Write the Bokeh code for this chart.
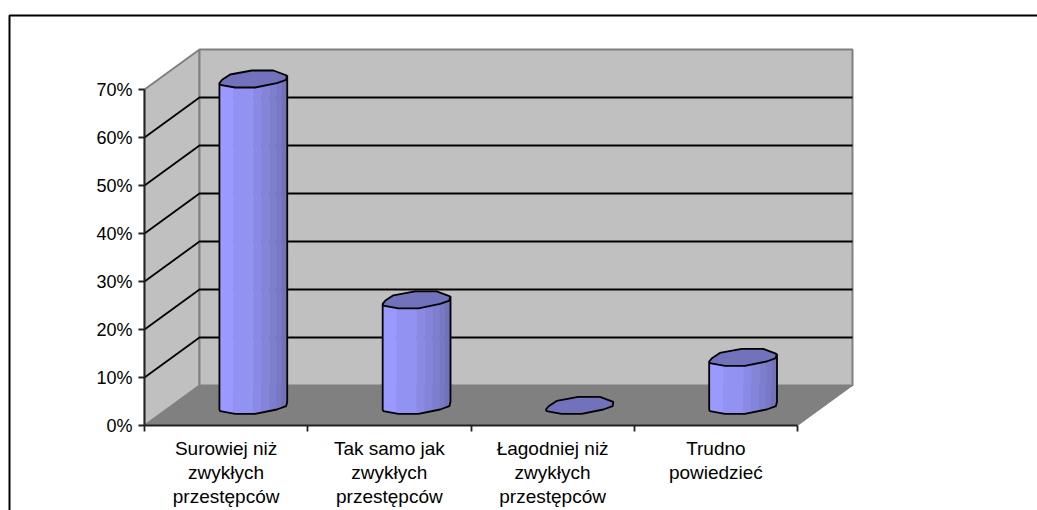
import numpy as np
from bokeh.embed import file_html
from bokeh.resources import INLINE
from bokeh.core.properties import value
from bokeh.models import Range1d, LinearAxis, FixedTicker
from bokeh.plotting import figure

categories = ["Surowiej niż\nzwykłych\nprzestępców", "Tak samo jak\nzwykłych\nprzestępców",
              "Łagodniej niż\nzwykłych\nprzestępców", "Trudno\npowiedzieć"]
values = [68, 22, 0, 10]
y_ticks = [0, 10, 20, 30, 40, 50, 60, 70]
x_ticks = [0, 1, 2, 3, 4]
band_edges_px = [-34, -20, 0, 8, 16, 23, 28, 34]
band_colors = ["#9999FF", "#9292F2", "#8A8AE6", "#8484DA", "#7E7ECE", "#7878C6", "#7272BA"]
top_color = "#7272BC"
# outline of one cylinder's end face, px offsets from its centre
ring_px = [(-34.2, 4.0), (-31.5, 0.7), (-23.5, -4.6), (-1.8, -8.6), (19.8, -8.6), (33.2, -3.6),
           (32.5, 0.7), (23.2, 4.0), (1.5, 8.4), (-18.5, 8.4), (-33.5, 5.7)]
front_px = [(-34.2, 4.0), (-33.5, 5.7), (-18.5, 8.4), (1.5, 8.4), (23.2, 4.0), (32.5, 0.7), (33.6, -3.6)]

W, H = 1037, 510
PX_X = 163.25          # px per category
PX_Y = 4.8             # px per percent
DX, DY = 55 / PX_X, 40 / PX_Y   # depth offset in data units
X0, Y0 = 144, 425      # axes origin in figure px
FS_X, FS_Y = "19px", "18px"
FONT = "Liberation Sans"

p = figure(width=W, height=H, output_backend="svg", toolbar_location=None, min_border=0,
           x_axis_type=None, y_axis_type=None, outline_line_color=None,
           x_range=Range1d(-X0 / PX_X, (W - X0) / PX_X),
           y_range=Range1d(-(H - Y0) / PX_Y, Y0 / PX_Y))
p.grid.visible = False


def proj(x, y, z):
    return x + DX * z, y + DY * z


def poly(pts, **kw):
    xs, ys = zip(*[proj(*q) for q in pts])
    p.patch(list(xs), list(ys), **kw)


# walls and floor
xmax, ymax = x_ticks[-1], y_ticks[-1]
poly([(0, 0, 0), (0, 0, 1), (0, ymax, 1), (0, ymax, 0)], fill_color="#C0C0C0", line_color="#808080", line_width=2)
poly([(0, 0, 1), (xmax, 0, 1), (xmax, ymax, 1), (0, ymax, 1)], fill_color="#C0C0C0", line_color="#808080", line_width=2)
poly([(0, 0, 0), (xmax, 0, 0), (xmax, 0, 1), (0, 0, 1)], fill_color="#808080", line_color="#808080", line_width=1)

# gridlines
for v in y_ticks[1:-1]:
    a, b, c = proj(0, v, 0), proj(0, v, 1), proj(xmax, v, 1)
    p.line([a[0], b[0], c[0]], [a[1], b[1], c[1]], line_color="black", line_width=1.8)

# cylinders: base centre sits half way into the depth
fx = [q[0] for q in front_px]
fy = [q[1] for q in front_px]
for i, v in enumerate(values):
    cx, cy = proj(i + 0.5, 0, 0.5)
    X = lambda dx: cx + dx / PX_X
    Y = lambda base, dy: base - dy / PX_Y
    if v > 0:
        for k, col in enumerate(band_colors):
            e1, e2 = band_edges_px[k], band_edges_px[k + 1]
            xs = np.linspace(e1, e2, 5)
            low = [float(np.interp(d, fx, fy)) for d in xs]
            hi = low[::-1]
            px = [X(d) for d in xs] + [X(d) for d in xs[::-1]]
            py = [Y(cy, d) for d in low] + [Y(cy + v, d) for d in hi]
            p.patch(px, py, fill_color=col, line_color=col, line_width=0.5)
        sil_x = [X(-34.2), *[X(d) for d in fx], X(33.6)]
        sil_y = [Y(cy + v, 4.0), *[Y(cy, d) for d in fy], Y(cy + v, -3.6)]
        p.line(sil_x, sil_y, line_color="black", line_width=1.8)
    p.patch([X(d[0]) for d in ring_px], [Y(cy + v, d[1]) for d in ring_px],
            fill_color=top_color, line_color="black", line_width=1.8)

# axes placed on the front plane
ya = LinearAxis(fixed_location=0, ticker=FixedTicker(ticks=y_ticks), bounds=(0, ymax))
ya.major_label_overrides = {v: f"{v}%" for v in y_ticks}
ya.axis_line_color = "#222222"; ya.axis_line_width = 1.8
ya.major_tick_line_color = "#222222"; ya.major_tick_line_width = 1.8
ya.major_tick_in = 0; ya.major_tick_out = 6; ya.minor_tick_line_color = None
ya.major_label_text_font = FONT; ya.major_label_text_font_size = FS_Y
ya.major_label_text_color = "black"; ya.major_label_standoff = 6
p.add_layout(ya, "left")

xa = LinearAxis(fixed_location=0, ticker=FixedTicker(ticks=x_ticks), bounds=(0, xmax))
xa.axis_line_color = "#222222"; xa.axis_line_width = 1.8
xa.major_tick_line_color = "#222222"; xa.major_tick_line_width = 1.8
xa.major_tick_in = 0; xa.major_tick_out = 6; xa.minor_tick_line_color = None
xa.major_label_overrides = {t: "" for t in x_ticks}
p.add_layout(xa, "below")

# category labels
p.text([i + 0.5 for i in range(len(categories))], [-2.55] * len(categories), text=categories,
       text_font=value(FONT), text_font_size=value(FS_X), text_color="black", text_align="center",
       text_baseline="top", text_line_height=1.15)

# outer chart frame (open at right and bottom, as cropped)
ex, ey = (9 - X0) / PX_X, (Y0 - 15) / PX_Y
p.line([ex, ex, (W - X0) / PX_X], [-(H - Y0) / PX_Y, ey, ey], line_color="black", line_width=2)

open("out.html", "w").write(file_html(p, INLINE))
